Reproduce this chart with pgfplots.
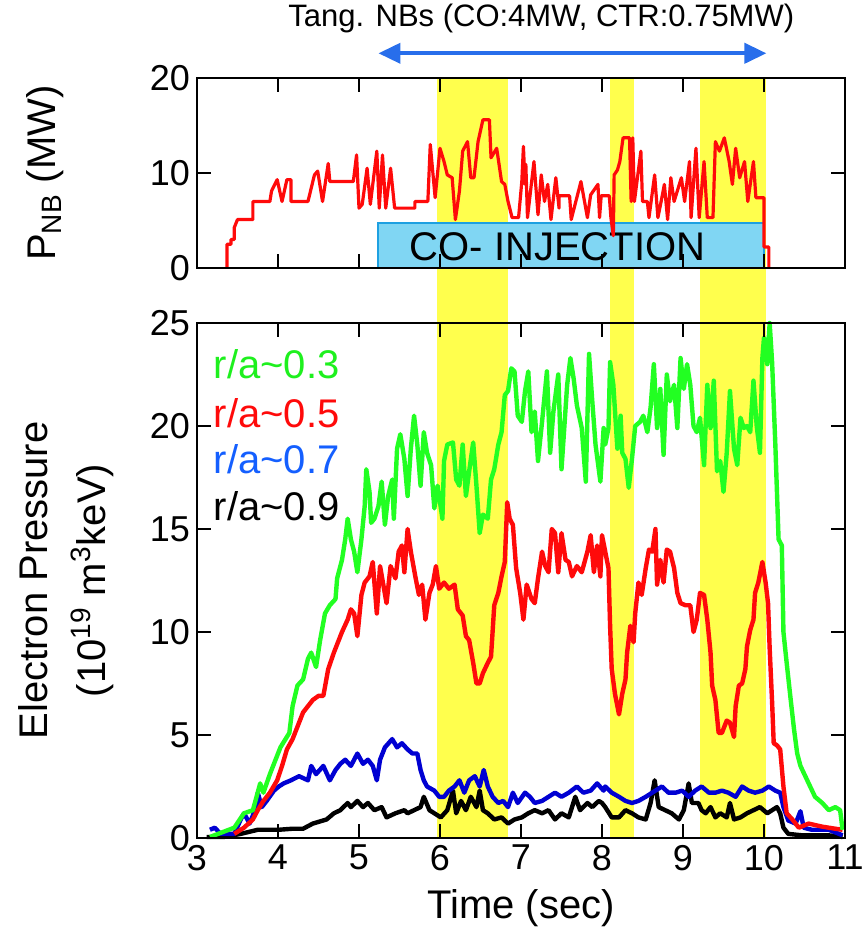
\documentclass[border=0pt]{standalone}
\usepackage{fontspec}
\setmainfont{Liberation Sans}
\usepackage{pgfplots}
\pgfplotsset{compat=1.18}
\usetikzlibrary{arrows.meta}

\definecolor{band}{RGB}{255,255,77}
\definecolor{cgreen}{RGB}{34,255,34}
\definecolor{cred}{RGB}{255,10,10}
\definecolor{cblue}{RGB}{0,0,210}
\definecolor{tgreen}{RGB}{30,240,30}
\definecolor{tblue}{RGB}{20,95,255}
\definecolor{boxfill}{RGB}{128,214,243}
\definecolor{boxedge}{RGB}{30,160,225}
\definecolor{arrowblue}{RGB}{40,110,235}

\pgfplotsset{
  common/.style={
    scale only axis, width=324pt,
    xmin=3, xmax=11, xtick={3,4,...,11},
    tick align=inside, major tick length=7pt,
    axis line style={line width=1.2pt},
    major tick style={line width=1.2pt, black},
    /pgf/number format/assume math mode=true,
    tick label style={font=\fontsize{18}{20}\selectfont},
    label style={font=\fontsize{20}{29}\selectfont},
    axis on top, clip=false,
  },
  trace/.style={line width=2.2pt, line join=round},
}

\begin{document}
\begin{tikzpicture}
\useasboundingbox (-98.5pt,-47.5pt) rectangle (334.5pt,419pt);

% lower panel: electron pressure
\begin{axis}[common, height=257.5pt,
  ymin=0, ymax=25, ytick={0,5,...,25},
  xlabel={Time (sec)},
  xlabel style={at={(axis description cs:0.5,-0.136)}, anchor=center},
  ylabel={Electron Pressure\\(10\textsuperscript{19} m\textsuperscript{3}keV)},
  ylabel style={at={(axis description cs:-0.202,0.5)}, anchor=center, align=center},
]
% beam-switch intervals, up to the top of the upper panel
\fill[band] (axis cs:5.96,0) rectangle (axis cs:6.84,36.9);
\fill[band] (axis cs:8.10,0) rectangle (axis cs:8.39,36.9);
\fill[band] (axis cs:9.21,0) rectangle (axis cs:10.02,36.9);

% r/a~0.9
\addplot[trace, black] coordinates {
(3.12,0.05)(3.33,0.05)(3.54,0.2)(3.75,0.4)(4.01,0.4)(4.18,0.45)(4.31,0.45)(4.43,0.7)
(4.60,0.9)(4.69,1.2)(4.77,1.35)(4.86,1.7)(4.90,1.5)(4.98,1.8)(5.05,1.5)(5.11,1.7)
(5.19,1.35)(5.28,1.5)(5.34,1.0)(5.45,1.2)(5.56,1.35)(5.60,1.2)(5.68,1.35)(5.76,1.5)
(5.80,2.0)(5.87,1.35)(5.93,1.2)(6.01,1.0)(6.09,1.35)(6.16,2.3)(6.20,1.2)(6.26,1.8)
(6.32,1.35)(6.38,2.0)(6.45,1.5)(6.49,2.3)(6.53,1.35)(6.59,1.2)(6.67,0.9)(6.76,1.0)
(6.84,0.7)(6.92,0.9)(7.01,1.0)(7.09,1.2)(7.17,1.35)(7.26,1.2)(7.34,1.35)(7.42,0.9)
(7.50,1.2)(7.59,1.0)(7.67,2.0)(7.73,1.35)(7.82,1.7)(7.88,1.5)(7.96,1.8)(8.00,1.7)
(8.04,1.5)(8.12,1.0)(8.21,1.0)(8.29,1.35)(8.37,1.2)(8.45,1.0)(8.54,0.9)(8.60,1.7)
(8.65,2.8)(8.70,1.5)(8.78,1.35)(8.86,1.2)(8.95,0.9)(9.01,1.35)(9.07,2.65)(9.11,1.7)
(9.19,1.7)(9.23,1.35)(9.28,1.2)(9.34,1.5)(9.40,1.0)(9.46,1.2)(9.54,1.0)(9.58,1.7)
(9.63,0.9)(9.71,1.0)(9.79,1.2)(9.87,1.35)(9.95,1.5)(10.04,1.2)(10.16,1.5)(10.20,1.2)
(10.24,0.5)(10.30,0.2)(10.47,0.13)(10.80,0.13)(10.97,0.05)};

% r/a~0.7
\addplot[trace, cblue] coordinates {
(3.16,0.4)(3.22,0.5)(3.29,0.2)(3.46,0.2)(3.54,0.9)(3.58,1.2)(3.65,0.7)(3.73,1.5)
(3.75,2.2)(3.80,1.5)(3.86,1.8)(3.95,2.3)(4.01,2.5)(4.07,2.65)(4.16,2.8)(4.26,3.0)
(4.37,2.8)(4.41,3.5)(4.47,3.1)(4.56,3.5)(4.64,2.8)(4.71,3.3)(4.77,3.6)(4.83,3.8)
(4.90,3.5)(4.98,4.1)(5.05,3.6)(5.11,3.8)(5.17,3.5)(5.22,2.8)(5.26,3.8)(5.32,4.4)
(5.41,4.8)(5.47,4.4)(5.53,4.6)(5.60,4.3)(5.66,4.1)(5.72,4.1)(5.76,3.3)(5.80,2.8)
(5.84,2.5)(5.93,2.3)(5.99,2.0)(6.05,2.0)(6.11,2.3)(6.18,2.5)(6.24,2.8)(6.30,2.2)
(6.36,2.8)(6.43,3.0)(6.49,2.5)(6.54,3.3)(6.59,2.5)(6.65,2.0)(6.72,1.7)(6.78,1.8)
(6.84,1.5)(6.90,2.2)(6.96,1.7)(7.05,2.2)(7.11,2.0)(7.17,1.7)(7.26,1.8)(7.34,2.0)
(7.42,2.2)(7.50,2.0)(7.59,2.2)(7.69,2.5)(7.77,2.2)(7.86,2.3)(7.94,2.65)(8.02,2.3)
(8.04,2.5)(8.12,2.2)(8.21,2.0)(8.29,1.8)(8.37,1.7)(8.45,1.8)(8.54,2.0)(8.62,2.2)
(8.74,2.5)(8.82,2.2)(8.91,2.2)(8.99,2.3)(9.07,2.0)(9.15,2.3)(9.23,2.5)(9.32,2.2)
(9.40,2.2)(9.48,2.3)(9.56,2.2)(9.65,2.0)(9.73,2.5)(9.81,2.3)(9.89,2.2)(9.98,2.3)
(10.06,2.5)(10.14,2.3)(10.20,2.2)(10.24,1.5)(10.30,0.85)(10.39,0.7)(10.45,1.3)
(10.49,0.5)(10.59,0.4)(10.80,0.4)(10.97,0.13)};

% r/a~0.5
\addplot[trace, cred] coordinates {
(3.46,0.2)(3.58,0.5)(3.69,0.9)(3.75,1.35)(3.82,1.8)(3.90,2.2)(3.99,2.8)(4.05,3.5)
(4.11,4.3)(4.18,4.8)(4.24,5.4)(4.31,6.1)(4.37,6.4)(4.43,6.7)(4.50,6.9)(4.56,6.9)
(4.62,8.2)(4.69,9.0)(4.75,9.6)(4.79,10.0)(4.86,10.6)(4.90,11.1)(4.94,10.9)(4.98,9.8)
(5.03,11.8)(5.07,12.4)(5.13,12.7)(5.17,13.4)(5.22,10.9)(5.26,13.2)(5.30,12.3)(5.34,11.4)
(5.39,13.2)(5.45,12.6)(5.49,13.9)(5.53,14.2)(5.56,12.9)(5.60,15.0)(5.64,13.9)(5.70,12.6)
(5.74,11.8)(5.78,12.3)(5.82,10.6)(5.87,11.9)(5.91,12.3)(5.95,13.2)(5.99,12.1)(6.05,12.4)
(6.11,12.1)(6.18,12.3)(6.22,11.1)(6.28,10.8)(6.32,9.8)(6.36,9.6)(6.41,8.5)(6.45,7.5)
(6.49,7.5)(6.53,8.0)(6.59,8.5)(6.63,8.8)(6.67,11.3)(6.72,11.9)(6.76,12.7)(6.80,13.4)
(6.83,16.3)(6.86,15.5)(6.90,15.2)(6.94,13.1)(6.99,11.9)(7.03,10.6)(7.07,12.3)(7.13,11.6)
(7.17,11.4)(7.21,12.6)(7.26,13.9)(7.30,13.2)(7.34,12.9)(7.38,15.0)(7.42,14.8)(7.46,12.9)
(7.50,14.8)(7.55,13.5)(7.59,13.4)(7.63,12.7)(7.69,13.2)(7.75,12.9)(7.82,13.9)(7.86,14.7)
(7.90,12.9)(7.94,14.2)(7.98,12.7)(8.00,14.7)(8.04,13.9)(8.08,13.1)(8.10,10.3)(8.12,8.2)
(8.16,7.0)(8.21,6.0)(8.25,7.0)(8.29,7.7)(8.31,9.0)(8.35,10.3)(8.39,9.5)(8.41,10.9)
(8.45,12.4)(8.49,11.8)(8.54,13.1)(8.58,14.0)(8.62,13.9)(8.66,15.0)(8.68,12.3)(8.72,13.5)
(8.76,12.4)(8.80,14.0)(8.84,13.9)(8.89,13.1)(8.93,11.9)(8.97,11.4)(9.03,11.3)(9.09,11.3)
(9.13,10.0)(9.17,10.6)(9.21,11.9)(9.26,11.8)(9.30,10.6)(9.34,9.0)(9.36,7.4)(9.40,6.7)
(9.44,5.1)(9.48,5.1)(9.54,5.7)(9.58,5.6)(9.63,4.9)(9.65,6.4)(9.69,7.4)(9.73,7.5)
(9.77,8.2)(9.79,9.3)(9.83,10.1)(9.87,10.6)(9.89,11.9)(9.93,12.4)(9.98,13.4)(10.02,12.4)
(10.05,11.4)(10.07,9.2)(10.10,6.6)(10.12,4.6)(10.16,4.5)(10.20,4.3)(10.24,2.5)(10.28,1.2)
(10.35,0.9)(10.43,0.5)(10.55,0.7)(10.72,0.55)(10.88,0.45)(10.97,0.4)};

% r/a~0.3
\addplot[trace, cgreen] coordinates {
(3.16,0.05)(3.46,0.5)(3.58,1.2)(3.69,1.35)(3.78,2.65)(3.82,2.2)(3.90,3.1)(3.97,3.8)
(4.03,4.4)(4.14,5.1)(4.18,6.4)(4.24,7.4)(4.31,7.7)(4.37,8.7)(4.41,9.0)(4.47,8.3)
(4.52,9.6)(4.58,10.9)(4.64,11.3)(4.71,11.6)(4.73,12.6)(4.79,13.5)(4.83,14.5)(4.86,15.5)
(4.90,14.5)(4.94,13.9)(4.98,12.9)(5.03,14.5)(5.07,16.1)(5.09,17.9)(5.13,16.8)(5.15,15.3)
(5.19,15.5)(5.24,16.1)(5.28,17.3)(5.32,15.2)(5.36,16.6)(5.41,17.4)(5.43,15.5)(5.47,18.9)
(5.51,19.6)(5.56,18.4)(5.60,16.6)(5.64,18.9)(5.68,20.5)(5.72,19.1)(5.76,17.1)(5.80,19.7)
(5.84,18.7)(5.89,18.1)(5.93,16.0)(5.97,17.1)(6.03,15.5)(6.05,18.3)(6.09,19.1)(6.16,19.2)
(6.20,17.4)(6.24,17.1)(6.28,19.1)(6.32,16.6)(6.36,17.8)(6.41,19.2)(6.45,17.1)(6.49,14.8)
(6.53,15.7)(6.59,15.5)(6.63,17.4)(6.67,17.9)(6.72,19.1)(6.76,19.7)(6.80,21.5)(6.84,21.7)
(6.88,22.8)(6.92,22.65)(6.96,20.5)(7.01,20.2)(7.05,21.7)(7.09,22.65)(7.13,19.7)(7.17,20.7)
(7.21,18.3)(7.26,20.2)(7.32,22.65)(7.36,18.7)(7.40,20.7)(7.46,22.5)(7.50,17.9)(7.57,22.0)
(7.61,23.3)(7.65,22.3)(7.69,21.0)(7.75,19.9)(7.80,17.3)(7.84,23.5)(7.88,21.2)(7.92,19.1)
(7.98,17.3)(8.02,19.9)(8.04,19.1)(8.08,19.9)(8.10,23.1)(8.14,22.0)(8.19,18.9)(8.23,20.5)
(8.25,18.7)(8.29,18.4)(8.33,17.0)(8.37,18.4)(8.41,20.0)(8.47,20.2)(8.51,20.5)(8.56,19.7)
(8.60,20.9)(8.64,23.0)(8.68,19.9)(8.72,21.8)(8.76,18.6)(8.80,22.5)(8.84,21.2)(8.89,22.0)
(8.93,19.9)(8.97,23.3)(9.01,21.8)(9.05,23.0)(9.09,22.0)(9.13,20.0)(9.17,19.7)(9.21,20.4)
(9.26,18.1)(9.30,22.0)(9.34,19.9)(9.38,22.2)(9.42,17.8)(9.46,18.3)(9.50,16.8)(9.54,18.7)
(9.58,21.7)(9.63,18.9)(9.67,18.1)(9.71,20.4)(9.75,19.9)(9.79,20.0)(9.83,19.7)(9.87,22.2)
(9.91,20.0)(9.95,18.7)(9.98,23.3)(10.00,24.3)(10.04,23.0)(10.07,25.0)(10.10,23.1)
(10.14,19.1)(10.16,16.8)(10.18,14.5)(10.22,14.2)(10.24,10.0)(10.28,8.5)(10.33,6.7)
(10.37,5.3)(10.41,4.1)(10.45,3.5)(10.51,3.0)(10.57,2.5)(10.63,2.0)(10.72,1.7)(10.80,1.35)
(10.88,1.5)(10.94,1.35)(10.97,0.4)};

\begin{scope}[font=\fontsize{20}{22}\selectfont]
\node[anchor=west, text=tgreen] at (axis cs:3.12,23.0) {r/a\textasciitilde 0.3};
\node[anchor=west, text=cred] at (axis cs:3.12,20.6) {r/a\textasciitilde 0.5};
\node[anchor=west, text=tblue] at (axis cs:3.12,18.4) {r/a\textasciitilde 0.7};
\node[anchor=west, text=black] at (axis cs:3.12,16.1) {r/a\textasciitilde 0.9};
\end{scope}
\end{axis}

% upper panel: NB power
\begin{axis}[common, height=95pt, at={(0pt,285pt)}, anchor=south west,
  ymin=0, ymax=20, ytick={0,10,20}, xticklabels={},
  ylabel={P\textsubscript{NB} (MW)},
  ylabel style={at={(axis description cs:-0.235,0.5)}, anchor=center},
]
\draw[fill=boxfill, draw=boxedge, line width=1pt] (axis cs:5.24,0) rectangle (axis cs:10.0,4.7);
\node[font=\fontsize{20}{22}\selectfont] at (axis cs:7.45,2.2) {CO- INJECTION};

\addplot[cred, line width=1.6pt, line join=round] coordinates {
(3.37,0)(3.37,2.5)(3.42,2.5)(3.42,3.0)(3.46,3.0)(3.46,4.25)(3.50,5.1)(3.69,5.1)
(3.69,7.0)(3.90,7.0)(3.92,8.1)(3.99,9.3)(4.05,7.0)(4.11,9.3)(4.16,9.3)(4.16,7.0)
(4.37,7.0)(4.45,9.8)(4.49,10.2)(4.55,7.0)(4.62,11.0)(4.64,9.1)(4.93,9.1)(4.97,11.9)
(5.00,6.3)(5.04,6.7)(5.10,10.5)(5.14,6.7)(5.22,12.3)(5.25,6.3)(5.29,11.9)(5.33,6.3)
(5.39,10.5)(5.44,6.3)(5.69,6.3)(5.69,7.0)(5.85,7.0)(5.88,13.0)(5.94,7.4)(6.00,12.6)
(6.05,11.2)(6.09,9.8)(6.15,9.5)(6.19,5.1)(6.24,8.1)(6.28,12.3)(6.34,13.3)(6.38,9.5)
(6.42,9.5)(6.47,13.3)(6.53,15.6)(6.61,15.6)(6.63,11.6)(6.70,12.6)(6.76,9.1)(6.80,8.8)
(6.84,7.0)(6.89,5.3)(6.97,5.3)(7.01,9.1)(7.03,12.8)(7.05,8.8)(7.06,10.9)(7.08,5.3)
(7.16,11.2)(7.21,5.6)(7.25,9.8)(7.29,7.0)(7.33,8.8)(7.37,5.1)(7.43,9.5)(7.47,6.3)
(7.47,7.6)(7.60,7.6)(7.62,5.1)(7.74,9.1)(7.82,5.3)(7.86,7.7)(7.95,8.8)(7.97,5.3)
(7.99,7.6)(8.09,7.6)(8.11,5.3)(8.14,3.4)(8.15,9.8)(8.19,10.3)(8.22,11.2)(8.26,13.7)
(8.34,13.7)(8.36,7.0)(8.38,13.7)(8.40,7.0)(8.48,12.3)(8.50,7.0)(8.56,7.0)(8.58,5.3)
(8.65,9.8)(8.69,5.3)(8.73,7.0)(8.77,8.8)(8.81,5.1)(8.85,9.5)(8.89,7.0)(8.98,9.5)
(9.02,7.0)(9.08,11.2)(9.10,5.3)(9.16,12.6)(9.20,5.3)(9.26,11.2)(9.30,5.3)(9.37,5.3)
(9.40,13.3)(9.45,12.3)(9.51,13.7)(9.57,11.2)(9.61,8.8)(9.65,12.6)(9.70,9.5)(9.76,11.2)
(9.80,7.0)(9.87,11.2)(9.90,7.4)(10.00,7.4)(10.00,2.2)(10.06,2.2)(10.06,0)};

\draw[{Triangle[length=11pt,width=10pt]}-{Triangle[length=11pt,width=10pt]}, arrowblue, line width=2pt]
  (axis cs:5.24,22.6) -- (axis cs:10.03,22.6);
\node[font=\fontsize{15.5}{18}\selectfont] at (axis cs:7.25,26.3) {Tang. NBs (CO:4MW, CTR:0.75MW)};
\end{axis}
\end{tikzpicture}
\end{document}
